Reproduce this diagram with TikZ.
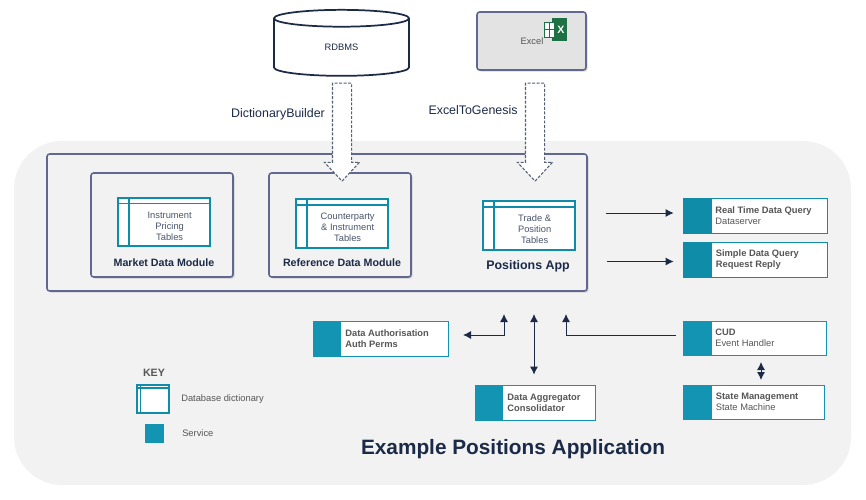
\documentclass[tikz,border=0pt]{standalone}
\usepackage{fontspec}
\setmainfont{Liberation Sans}
\usetikzlibrary{arrows.meta,calc,positioning,shadows,shapes.arrows,shapes.geometric}
\definecolor{panelgrey}{HTML}{F2F2F2}
\definecolor{framegrey}{HTML}{62678F}
\definecolor{navy}{HTML}{1B2A47}
\definecolor{tealtop}{HTML}{0E8CA8}
\definecolor{tealbot}{HTML}{1394B2}
\definecolor{labelgrey}{HTML}{565656}
\definecolor{excelgreen}{HTML}{1E7145}
\newcommand{\tblrow}{\hspace*{8.5pt}}
\newcommand{\tbltop}{\rule{0pt}{11.2pt}\hspace*{8.5pt}}

\begin{document}
\begin{tikzpicture}[
      x=0.75pt, y=-0.75pt,
      every node/.style = {align=center, inner sep=0pt, font=\fontsize{7}{8.25}\selectfont},
      boxsize/.style 2 args={minimum width=#1*0.75pt, minimum height=#2*0.75pt},
      frame/.style={draw=framegrey, line width=1.2pt, rounded corners=2pt, fill=panelgrey,
        drop shadow={opacity=0.3, shadow xshift=1.2pt, shadow yshift=-1.2pt}},
      dbtable/.style={draw=tealtop, line width=1.5pt, fill=white, text=navy!80,
        path picture={
          \draw[tealtop, line width=1.1pt]
            ($(path picture bounding box.north west)!0.12!(path picture bounding box.north east)$) --
            ($(path picture bounding box.south west)!0.12!(path picture bounding box.south east)$)
            ($(path picture bounding box.north west)!0.12!(path picture bounding box.south west)$) --
            ($(path picture bounding box.north east)!0.12!(path picture bounding box.south east)$);
        }},
      modulelabel/.style={font=\fontsize{8}{9}\selectfont\bfseries, text=navy},
      bigarrow/.style={single arrow, rotate=-90, draw=navy!75, dash pattern=on 2.2pt off 1.2pt, fill=white, line width=0.8pt,
        minimum height=98*0.75pt, inner sep=6.75pt, single arrow head extend=6pt, single arrow tip angle=86},
      servicebox/.style={draw=#1, line width=0.6pt, fill=white},
      serviceblock/.style={fill=#1},
      servicetext/.style={align=left, text=labelgrey},
      flow/.style={draw=navy, line width=0.7pt, -{Latex[length=6pt,width=6pt]}},
      flowboth/.style={draw=navy, line width=0.7pt, {Latex[length=6pt,width=6pt]}-{Latex[length=6pt,width=6pt]}},
      keylabel/.style={font=\fontsize{7}{8}\selectfont, text=labelgrey}
    ]
    \useasboundingbox (0,0) rectangle (866,499);

    \node (panel) [boxsize={837}{344}, fill=panelgrey, rounded corners=36pt] at (432.5,313) {};

    % sources
    \node (rdbms) [cylinder, shape border rotate=90, aspect=0.5, draw=navy, line width=1.3pt, fill=white,
                   boxsize={135}{66}, text=navy] at (341.5,47.5) {RDBMS};
    \node (excel) [frame, fill=black!11, boxsize={109}{58}] at (531.5,41) {};
    \node (excellabel) [text=labelgrey] at (532,41) {Excel};
    \node (excelcover) [fill=excelgreen, boxsize={15}{23}, text=white, font=\fontsize{8}{9}\selectfont\bfseries] at (559.5,29.5) {\hspace*{2pt}X};
    \node (excelsheet) [fill=white, draw=excelgreen, line width=0.6pt, boxsize={10}{15}] at (549.5,29.5) {};
    \draw[excelgreen, line width=0.5pt] (excelsheet.west) -- (excelsheet.east);
    \draw[excelgreen, line width=0.5pt] (excelsheet.north) -- (excelsheet.south);

    % positions app
    \node (app)    [frame, boxsize={540}{137}] at (317,222.5) {};
    \node (market) [frame, boxsize={142}{104}] at (162,225) {};
    \node (refdata)[frame, boxsize={142}{104}] at (340,225) {};

    \node (instrtable) [dbtable, boxsize={92}{48}] at (164,222) {\tbltop Instrument\\\tblrow Pricing\\\tblrow Tables};
    \node (cptytable)  [dbtable, boxsize={92}{49}] at (342,223.5) {\tbltop Counterparty\\\tblrow \& Instrument\\\tblrow Tables};
    \node (tradetable) [dbtable, boxsize={92}{49}] at (529,225.5) {\tbltop Trade \&\\\tblrow Position\\\tblrow Tables};

    \node (marketlabel) [modulelabel] at (164,263) {Market Data Module};
    \node (reflabel)    [modulelabel] at (342,263) {Reference Data Module};
    \node (applabel)    [modulelabel, font=\fontsize{9.3}{11}\selectfont\bfseries] at (528,266) {Positions App};

    % big arrows
    \node (dictarrow)  [bigarrow] at (342,127) {};
    \node (excelarrow) [bigarrow] at (535,127) {};
    \node (dictlabel)  [font=\fontsize{9.3}{12}\selectfont, text=navy] at (278,114) {DictionaryBuilder};
    \node (excellink)  [font=\fontsize{9.3}{12}\selectfont, text=navy] at (473,110.5) {ExcelToGenesis};

    % services
    \node (rtquery) [servicebox=tealtop, boxsize={144}{35}] at (755,215.5) {};
    \node (rtblock) [serviceblock=tealtop, boxsize={29}{35}, right=0pt of rtquery.west] {};
    \node (rttext)  [servicetext, right=2.2pt of rtblock] {\textbf{Real Time Data Query}\\Dataserver};

    \node (simple)      [servicebox=tealtop, boxsize={144}{35}] at (755,259.5) {};
    \node (simpleblock) [serviceblock=tealtop, boxsize={29}{35}, right=0pt of simple.west] {};
    \node (simpletext)  [servicetext, right=2.6pt of simpleblock] {\textbf{Simple Data Query}\\\textbf{Request Reply}};

    \node (auth)      [servicebox=tealbot, boxsize={135}{35}] at (380.5,338.5) {};
    \node (authblock) [serviceblock=tealbot, boxsize={28}{35}, right=0pt of auth.west] {};
    \node (authtext)  [servicetext, right=3pt of authblock] {\textbf{Data Authorisation}\\\textbf{Auth Perms}};

    \node (aggr)      [servicebox=tealbot, boxsize={120}{35}] at (535,402.5) {};
    \node (aggrblock) [serviceblock=tealbot, boxsize={28}{35}, right=0pt of aggr.west] {};
    \node (aggrtext)  [servicetext, right=3pt of aggrblock] {\textbf{Data Aggregator}\\\textbf{Consolidator}};

    \node (cud)      [servicebox=tealbot, boxsize={143}{34}] at (754.5,338) {};
    \node (cudblock) [serviceblock=tealbot, boxsize={29}{34}, right=0pt of cud.west] {};
    \node (cudtext)  [servicetext, right=2.2pt of cudblock] {\textbf{CUD}\\Event Handler};

    \node (state)      [servicebox=tealbot, boxsize={141}{34}] at (753.5,402) {};
    \node (stateblock) [serviceblock=tealbot, boxsize={29}{34}, right=0pt of state.west] {};
    \node (statetext)  [servicetext, right=2.6pt of stateblock] {\textbf{State Management}\\State Machine};

    % free ends next to the app
    \coordinate (rtout)     at (606,213);
    \coordinate (simpleout) at (607,261.5);
    \coordinate (authport)  at (504,314);
    \coordinate (aggrport)  at (534,314);
    \coordinate (cudport)   at (566,314);
    \coordinate (cudbend)   at (676,335);
    \coordinate (authbend)  at (463,335);
    \coordinate (statetop)  at (761,362);
    \coordinate (statelow)  at (761,380);

    \draw[flow, shorten >=6.75pt]     (rtout)     -- (rtout -| rtquery.west);
    \draw[flow, shorten >=6.75pt]     (simpleout) -- (simpleout -| simple.west);
    \draw[flowboth]                   (authport)  |- (authbend);
    \draw[flowboth, shorten >=7.5pt]  (aggrport)  -- (aggrport |- aggr.north);
    \draw[flow]                       (cudbend)   -| (cudport);
    \draw[flowboth]                   (statetop)  -- (statelow);

    % key
    \node (keytitle) [font=\fontsize{8}{9}\selectfont\bfseries, text=labelgrey] at (154,373) {KEY};
    \node (keytable) [dbtable, boxsize={32}{28}] at (152.5,398.5) {};
    \node (keyblock) [fill=tealbot, boxsize={19}{19}] at (154.5,433.5) {};
    \node (keydb)    [keylabel, anchor=west] at (181,399) {Database dictionary};
    \node (keyserv)  [keylabel, anchor=west] at (182,433) {Service};

    \node (title) [font=\fontsize{15.6}{18}\selectfont\bfseries, text=navy] at (513,449) {Example Positions Application};
  \end{tikzpicture}
\end{document}
